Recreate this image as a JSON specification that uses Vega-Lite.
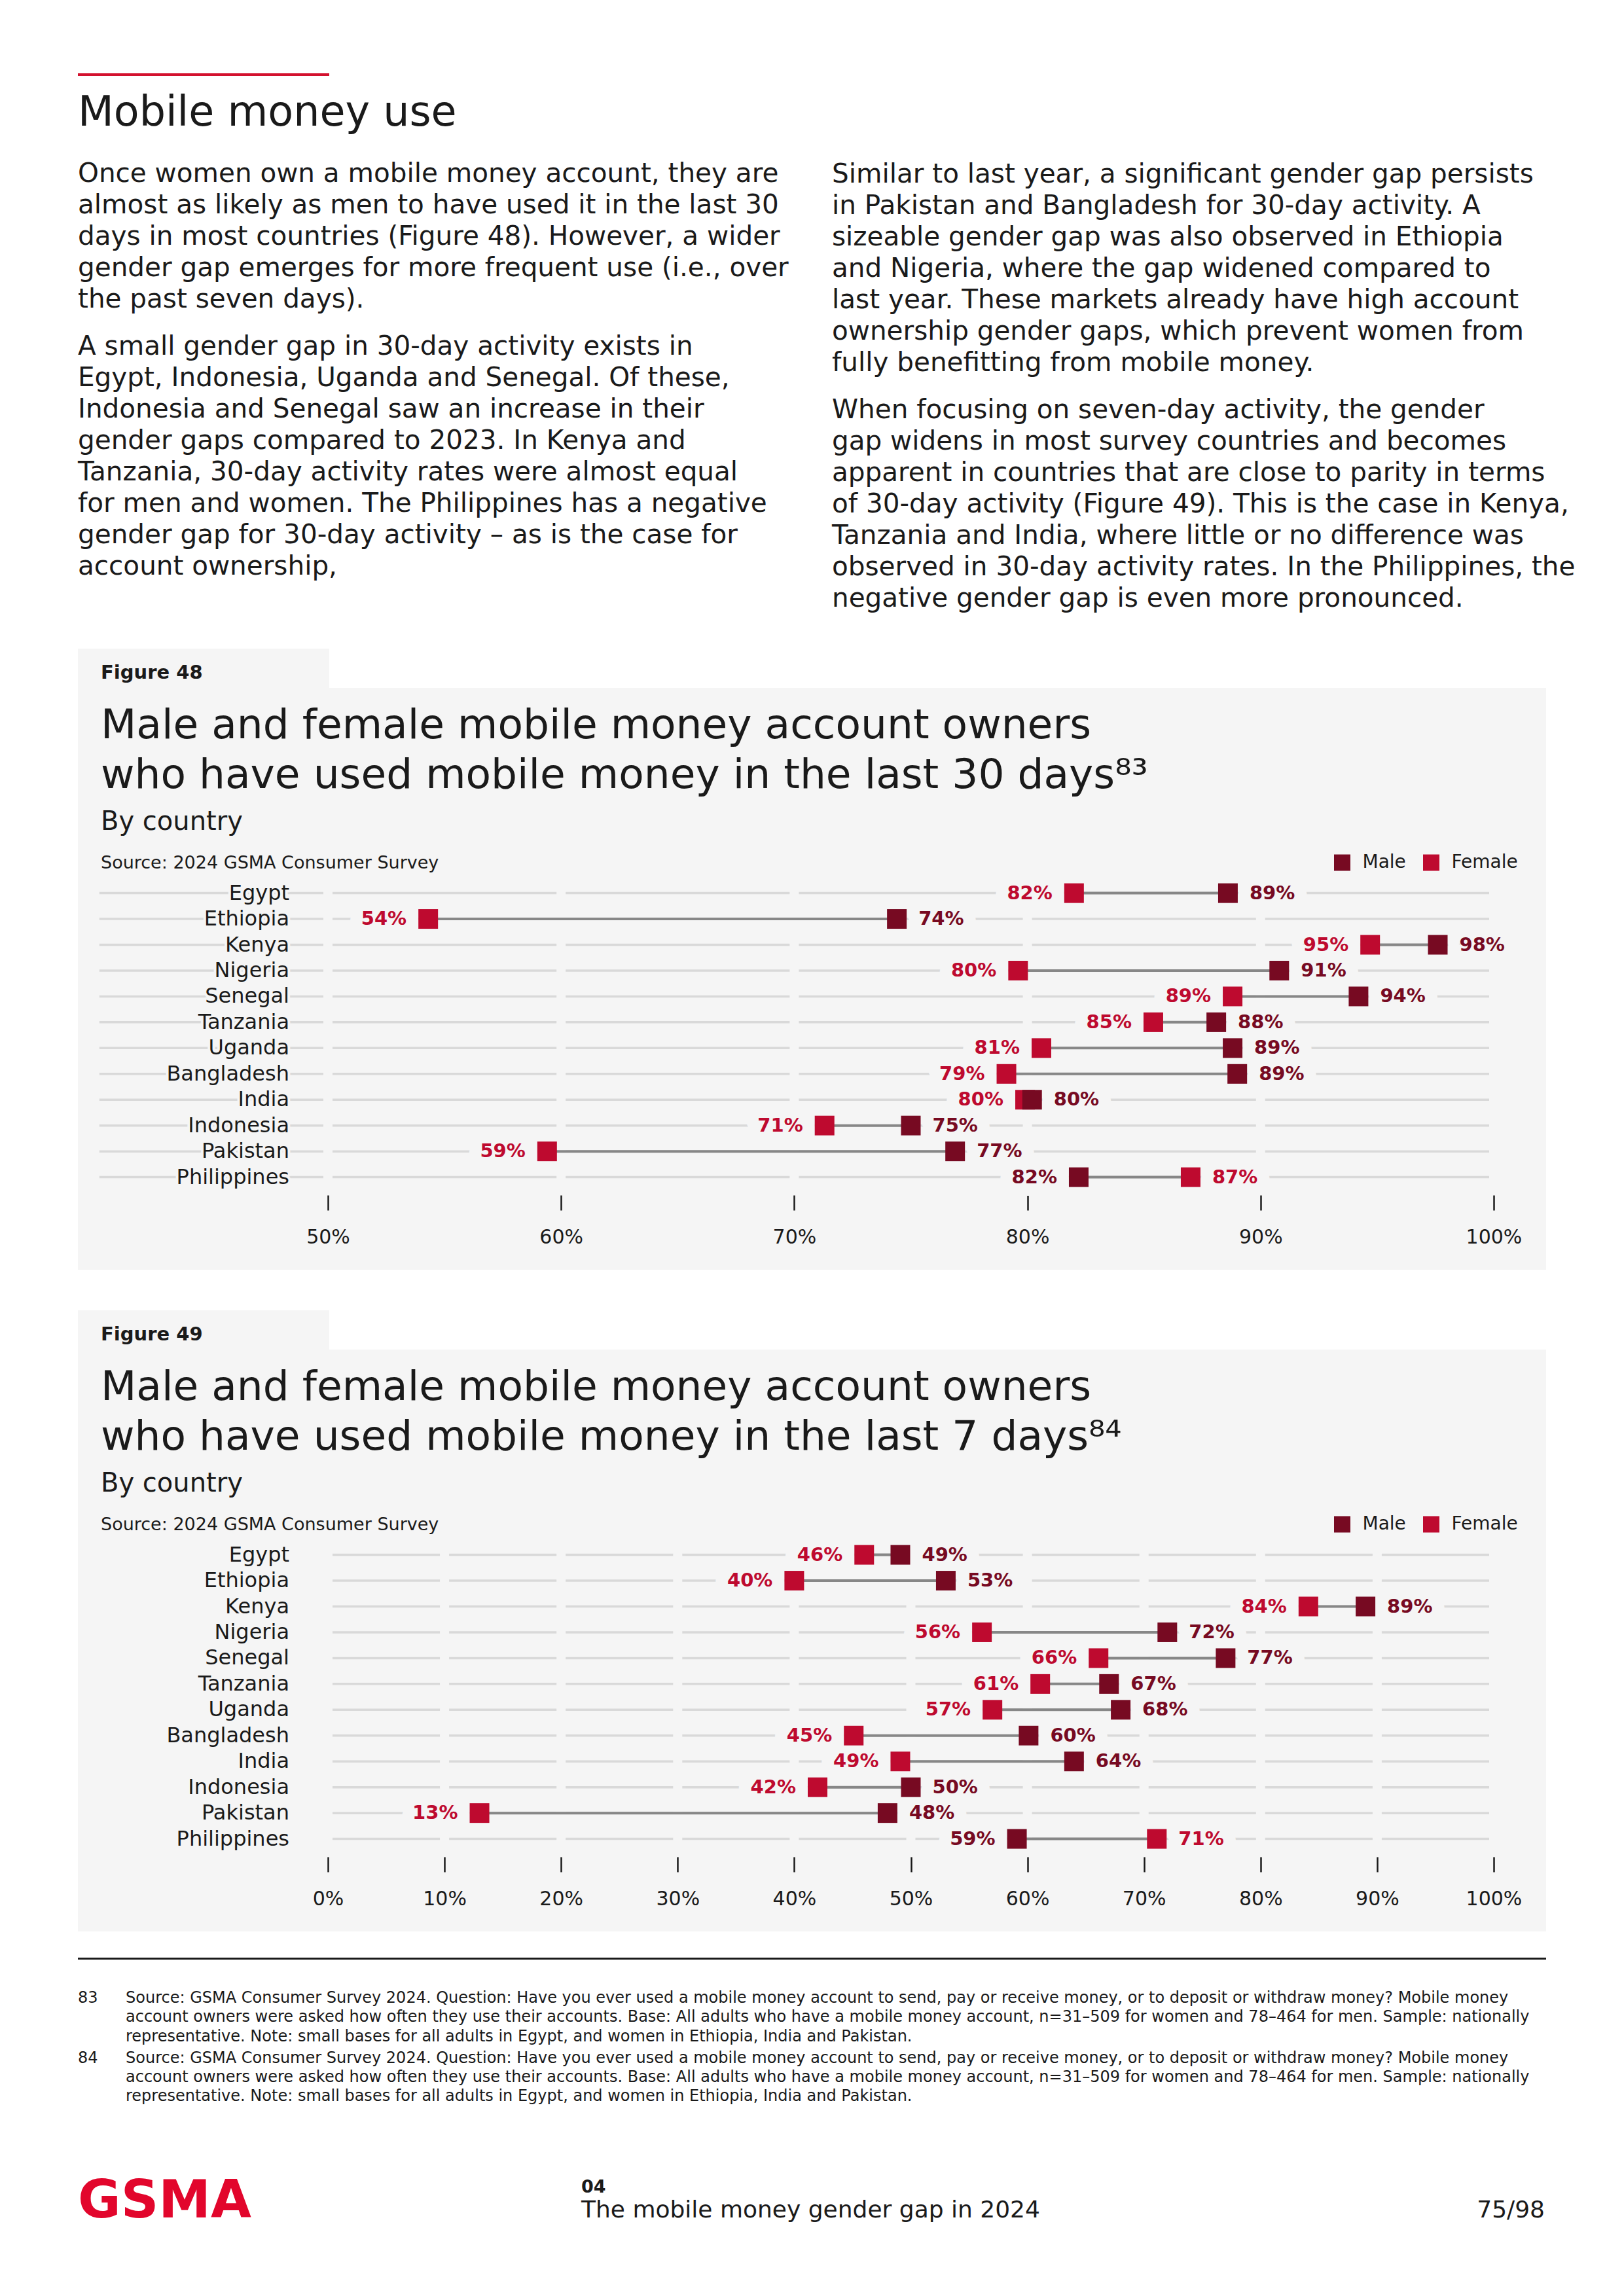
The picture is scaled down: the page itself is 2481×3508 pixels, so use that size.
{
  "$schema": "https://vega.github.io/schema/vega-lite/v6.json",
  "background": "white",
  "padding": {"left": 119, "top": 112, "right": 0, "bottom": 0},
  "autosize": {"type": "pad"},
  "bounds": "flush",
  "spacing": 0,
  "resolve": {"scale": {"color": "independent"}, "legend": {"color": "independent"}},
  "config": {
    "view": {"stroke": null},
    "font": "DejaVu Sans",
    "title": {"anchor": "start", "frame": "group", "font": "DejaVu Sans", "fontWeight": "normal", "color": "#1A1A1A", "subtitleFont": "DejaVu Sans", "subtitleFontWeight": "normal", "subtitleColor": "#1A1A1A", "offset": 0},
    "axisX": {"offset": -114, "domain": false, "grid": false, "ticks": true, "tickSize": 23, "tickWidth": 2.5, "tickColor": "#1A1A1A", "labelFont": "DejaVu Sans", "labelFontSize": 30, "labelColor": "#1A1A1A", "labelPadding": 41, "labelBaseline": "middle", "labelFlush": false, "labelOverlap": false}
  },
  "datasets": {
    "fig48": [
      {"country": "Egypt", "gender": "Female", "v": 0.820}, {"country": "Egypt", "gender": "Male", "v": 0.886},
      {"country": "Ethiopia", "gender": "Female", "v": 0.543}, {"country": "Ethiopia", "gender": "Male", "v": 0.744},
      {"country": "Kenya", "gender": "Female", "v": 0.947}, {"country": "Kenya", "gender": "Male", "v": 0.976},
      {"country": "Nigeria", "gender": "Female", "v": 0.796}, {"country": "Nigeria", "gender": "Male", "v": 0.908},
      {"country": "Senegal", "gender": "Female", "v": 0.888}, {"country": "Senegal", "gender": "Male", "v": 0.942},
      {"country": "Tanzania", "gender": "Female", "v": 0.854}, {"country": "Tanzania", "gender": "Male", "v": 0.881},
      {"country": "Uganda", "gender": "Female", "v": 0.806}, {"country": "Uganda", "gender": "Male", "v": 0.888},
      {"country": "Bangladesh", "gender": "Female", "v": 0.791}, {"country": "Bangladesh", "gender": "Male", "v": 0.890},
      {"country": "India", "gender": "Female", "v": 0.799}, {"country": "India", "gender": "Male", "v": 0.802},
      {"country": "Indonesia", "gender": "Female", "v": 0.713}, {"country": "Indonesia", "gender": "Male", "v": 0.750},
      {"country": "Pakistan", "gender": "Female", "v": 0.594}, {"country": "Pakistan", "gender": "Male", "v": 0.769},
      {"country": "Philippines", "gender": "Female", "v": 0.870}, {"country": "Philippines", "gender": "Male", "v": 0.822}
    ],
    "fig49": [
      {"country": "Egypt", "gender": "Female", "v": 0.460}, {"country": "Egypt", "gender": "Male", "v": 0.491},
      {"country": "Ethiopia", "gender": "Female", "v": 0.400}, {"country": "Ethiopia", "gender": "Male", "v": 0.530},
      {"country": "Kenya", "gender": "Female", "v": 0.841}, {"country": "Kenya", "gender": "Male", "v": 0.890},
      {"country": "Nigeria", "gender": "Female", "v": 0.561}, {"country": "Nigeria", "gender": "Male", "v": 0.720},
      {"country": "Senegal", "gender": "Female", "v": 0.661}, {"country": "Senegal", "gender": "Male", "v": 0.770},
      {"country": "Tanzania", "gender": "Female", "v": 0.611}, {"country": "Tanzania", "gender": "Male", "v": 0.670},
      {"country": "Uganda", "gender": "Female", "v": 0.570}, {"country": "Uganda", "gender": "Male", "v": 0.680},
      {"country": "Bangladesh", "gender": "Female", "v": 0.451}, {"country": "Bangladesh", "gender": "Male", "v": 0.601},
      {"country": "India", "gender": "Female", "v": 0.491}, {"country": "India", "gender": "Male", "v": 0.640},
      {"country": "Indonesia", "gender": "Female", "v": 0.420}, {"country": "Indonesia", "gender": "Male", "v": 0.500},
      {"country": "Pakistan", "gender": "Female", "v": 0.130}, {"country": "Pakistan", "gender": "Male", "v": 0.480},
      {"country": "Philippines", "gender": "Female", "v": 0.711}, {"country": "Philippines", "gender": "Male", "v": 0.591}
    ]
  },
  "vconcat": [
    {"width": 384, "height": 4, "view": {"fill": "#D3112E", "stroke": null}, "data": {"values": []}, "mark": "point", "encoding": {}},
    {"width": 10, "height": 96, "data": {"values": []}, "mark": "point", "encoding": {}},
    {"width": 1500, "height": 728, "data": {"values": []}, "mark": "point", "encoding": {},
     "title": {"text": "Mobile money use", "fontSize": 63.5, "offset": 6.6}},
    {"hconcat": [
      {"width": 1152, "height": 51, "data": {"values": []}, "mark": "point", "encoding": {},
       "title": {"text": ["Once women own a mobile money account, they are", "almost as likely as men to have used it in the last 30", "days in most countries (Figure 48). However, a wider", "gender gap emerges for more frequent use (i.e., over", "the past seven days)."],
                 "subtitle": ["A small gender gap in 30-day activity exists in", "Egypt, Indonesia, Uganda and Senegal. Of these,", "Indonesia and Senegal saw an increase in their", "gender gaps compared to 2023. In Kenya and", "Tanzania, 30-day activity rates were almost equal", "for men and women. The Philippines has a negative", "gender gap for 30-day activity – as is the case for", "account ownership,"],
                 "fontSize": 40.5, "lineHeight": 48, "subtitleFontSize": 40.5, "subtitleLineHeight": 48, "subtitlePadding": 31.3, "offset": 53.3}},
      {"width": 1091, "height": 51, "data": {"values": []}, "mark": "point", "encoding": {},
       "title": {"text": ["Similar to last year, a significant gender gap persists", "in Pakistan and Bangladesh for 30-day activity. A", "sizeable gender gap was also observed in Ethiopia", "and Nigeria, where the gap widened compared to", "last year. These markets already have high account", "ownership gender gaps, which prevent women from", "fully benefitting from mobile money."],
                 "subtitle": ["When focusing on seven-day activity, the gender", "gap widens in most survey countries and becomes", "apparent in countries that are close to parity in terms", "of 30-day activity (Figure 49). This is the case in Kenya,", "Tanzania and India, where little or no difference was", "observed in 30-day activity rates. In the Philippines, the", "negative gender gap is even more pronounced."],
                 "fontSize": 40.5, "lineHeight": 48, "subtitleFontSize": 40.5, "subtitleLineHeight": 48, "subtitlePadding": 31.3, "offset": 4.7}}
    ], "spacing": 0, "bounds": "flush"},
    {"width": 10, "height": 51, "data": {"values": []}, "mark": "point", "encoding": {}},
    {"width": 384, "height": 60, "view": {"fill": "#F5F5F5", "stroke": null}, "data": {"values": []}, "mark": "point", "encoding": {}},
    {"width": 2243, "height": 239, "view": {"fill": "#F5F5F5", "stroke": null}, "data": {"values": []}, "mark": "point", "encoding": {},
     "title": {"text": "Figure 48", "fontSize": 29, "fontWeight": "bold", "dx": 35, "offset": 7.9}},
    {"width": 2243, "height": 46, "view": {"fill": "#F5F5F5", "stroke": null}, "data": {"values": []},
     "title": {"text": ["Male and female mobile money account owners", "who have used mobile money in the last 30 days⁸³"], "fontSize": 63, "lineHeight": 76, "subtitle": "By country", "subtitleFontSize": 40, "subtitlePadding": 19.2, "dx": 35, "offset": 13.6},
     "mark": {"type": "square", "filled": true},
     "encoding": {"color": {"field": "gender", "type": "nominal", "scale": {"domain": ["Male", "Female"], "range": ["#770A22", "#BE0A2F"]},
       "legend": {"orient": "none", "legendX": 1917.5, "legendY": 14, "direction": "horizontal", "title": null, "symbolType": "square", "symbolSize": 625, "symbolStrokeWidth": 0, "symbolOpacity": 1, "labelFont": "DejaVu Sans", "labelFontSize": 28, "labelColor": "#1A1A1A", "labelOffset": 17, "columnPadding": 24, "padding": 0}}}},
    {"width": 2243, "height": 604, "view": {"fill": "#F5F5F5", "stroke": null},
     "title": {"text": "Source: 2024 GSMA Consumer Survey", "fontSize": 27, "dx": 35, "offset": 3.3},
     "data": {"name": "fig48"},
     "encoding": {"y": {"field": "country", "type": "nominal", "scale": {"type": "point", "domain": ["Egypt", "Ethiopia", "Kenya", "Nigeria", "Senegal", "Tanzania", "Uganda", "Bangladesh", "India", "Indonesia", "Pakistan", "Philippines"], "range": [28.6, 462.6], "padding": 0}, "axis": null}},
     "layer": [
       {"transform": [{"aggregate": [{"op": "count", "as": "n"}], "groupby": ["country"]}],
        "mark": {"type": "rule", "color": "#D9D9D9", "strokeWidth": 3.5, "strokeDash": [342.2, 14], "strokeDashOffset": 349.2},
        "encoding": {"x": {"datum": 0.4, "type": "quantitative", "scale": {"domain": [0.5, 1], "range": [382, 2163]}, "axis": {"values": [0.5, 0.6, 0.7, 0.8, 0.9, 1], "format": ".0%", "title": null}}, "x2": {"datum": 1}}},
       {"transform": [{"aggregate": [{"op": "count", "as": "n"}], "groupby": ["country"]}],
        "mark": {"type": "text", "align": "right", "baseline": "middle", "fontSize": 32, "color": "#F5F5F5", "stroke": "#F5F5F5", "strokeWidth": 8, "strokeJoin": "round"},
        "encoding": {"x": {"datum": 0.48344, "type": "quantitative", "scale": {"domain": [0.5, 1], "range": [382, 2163]}, "axis": {"values": [0.5, 0.6, 0.7, 0.8, 0.9, 1], "format": ".0%", "title": null}}, "text": {"field": "country"}}},
       {"transform": [{"joinaggregate": [{"op": "min", "field": "v", "as": "vmin"}], "groupby": ["country"]}, {"filter": "datum.v == datum.vmin"}],
        "mark": {"type": "text", "align": "right", "baseline": "middle", "dx": -33, "fontSize": 29, "fontWeight": "bold", "color": "#F5F5F5", "stroke": "#F5F5F5", "strokeWidth": 38, "strokeJoin": "round"},
        "encoding": {"x": {"field": "v", "type": "quantitative", "scale": {"domain": [0.5, 1], "range": [382, 2163]}, "axis": {"values": [0.5, 0.6, 0.7, 0.8, 0.9, 1], "format": ".0%", "title": null}}, "text": {"field": "v", "type": "quantitative", "format": ".0%"}}},
       {"transform": [{"joinaggregate": [{"op": "min", "field": "v", "as": "vmin"}], "groupby": ["country"]}, {"filter": "datum.v > datum.vmin"}],
        "mark": {"type": "text", "align": "left", "baseline": "middle", "dx": 33, "fontSize": 29, "fontWeight": "bold", "color": "#F5F5F5", "stroke": "#F5F5F5", "strokeWidth": 38, "strokeJoin": "round"},
        "encoding": {"x": {"field": "v", "type": "quantitative", "scale": {"domain": [0.5, 1], "range": [382, 2163]}, "axis": {"values": [0.5, 0.6, 0.7, 0.8, 0.9, 1], "format": ".0%", "title": null}}, "text": {"field": "v", "type": "quantitative", "format": ".0%"}}},
       {"transform": [{"aggregate": [{"op": "min", "field": "v", "as": "lo"}, {"op": "max", "field": "v", "as": "hi"}], "groupby": ["country"]}],
        "mark": {"type": "rule", "color": "#878787", "strokeWidth": 4},
        "encoding": {"x": {"field": "lo", "type": "quantitative", "scale": {"domain": [0.5, 1], "range": [382, 2163]}, "axis": {"values": [0.5, 0.6, 0.7, 0.8, 0.9, 1], "format": ".0%", "title": null}}, "x2": {"field": "hi"}}},
       {"mark": {"type": "square", "size": 900, "opacity": 1, "filled": true},
        "encoding": {"x": {"field": "v", "type": "quantitative", "scale": {"domain": [0.5, 1], "range": [382, 2163]}, "axis": {"values": [0.5, 0.6, 0.7, 0.8, 0.9, 1], "format": ".0%", "title": null}},
          "color": {"field": "gender", "type": "nominal", "scale": {"domain": ["Male", "Female"], "range": ["#770A22", "#BE0A2F"]}, "legend": null}}},
       {"transform": [{"joinaggregate": [{"op": "min", "field": "v", "as": "vmin"}], "groupby": ["country"]}, {"filter": "datum.v == datum.vmin"}],
        "mark": {"type": "text", "align": "right", "baseline": "middle", "dx": -33, "fontSize": 29, "fontWeight": "bold"},
        "encoding": {"x": {"field": "v", "type": "quantitative", "scale": {"domain": [0.5, 1], "range": [382, 2163]}, "axis": {"values": [0.5, 0.6, 0.7, 0.8, 0.9, 1], "format": ".0%", "title": null}}, "text": {"field": "v", "type": "quantitative", "format": ".0%"},
          "color": {"field": "gender", "type": "nominal", "scale": {"domain": ["Male", "Female"], "range": ["#770A22", "#BE0A2F"]}, "legend": null}}},
       {"transform": [{"joinaggregate": [{"op": "min", "field": "v", "as": "vmin"}], "groupby": ["country"]}, {"filter": "datum.v > datum.vmin"}],
        "mark": {"type": "text", "align": "left", "baseline": "middle", "dx": 33, "fontSize": 29, "fontWeight": "bold"},
        "encoding": {"x": {"field": "v", "type": "quantitative", "scale": {"domain": [0.5, 1], "range": [382, 2163]}, "axis": {"values": [0.5, 0.6, 0.7, 0.8, 0.9, 1], "format": ".0%", "title": null}}, "text": {"field": "v", "type": "quantitative", "format": ".0%"},
          "color": {"field": "gender", "type": "nominal", "scale": {"domain": ["Male", "Female"], "range": ["#770A22", "#BE0A2F"]}, "legend": null}}},
       {"transform": [{"aggregate": [{"op": "count", "as": "n"}], "groupby": ["country"]}],
        "mark": {"type": "text", "align": "right", "baseline": "middle", "fontSize": 32, "color": "#1A1A1A"},
        "encoding": {"x": {"datum": 0.48344, "type": "quantitative", "scale": {"domain": [0.5, 1], "range": [382, 2163]}, "axis": {"values": [0.5, 0.6, 0.7, 0.8, 0.9, 1], "format": ".0%", "title": null}}, "text": {"field": "country"}}}
     ]},
    {"width": 10, "height": 62, "data": {"values": []}, "mark": "point", "encoding": {}},
    {"width": 384, "height": 60, "view": {"fill": "#F5F5F5", "stroke": null}, "data": {"values": []}, "mark": "point", "encoding": {}},
    {"width": 2243, "height": 239, "view": {"fill": "#F5F5F5", "stroke": null}, "data": {"values": []}, "mark": "point", "encoding": {},
     "title": {"text": "Figure 49", "fontSize": 29, "fontWeight": "bold", "dx": 35, "offset": 7.9}},
    {"width": 2243, "height": 46, "view": {"fill": "#F5F5F5", "stroke": null}, "data": {"values": []},
     "title": {"text": ["Male and female mobile money account owners", "who have used mobile money in the last 7 days⁸⁴"], "fontSize": 63, "lineHeight": 76, "subtitle": "By country", "subtitleFontSize": 40, "subtitlePadding": 19.2, "dx": 35, "offset": 13.6},
     "mark": {"type": "square", "filled": true},
     "encoding": {"color": {"field": "gender", "type": "nominal", "scale": {"domain": ["Male", "Female"], "range": ["#770A22", "#BE0A2F"]},
       "legend": {"orient": "none", "legendX": 1917.5, "legendY": 14, "direction": "horizontal", "title": null, "symbolType": "square", "symbolSize": 625, "symbolStrokeWidth": 0, "symbolOpacity": 1, "labelFont": "DejaVu Sans", "labelFontSize": 28, "labelColor": "#1A1A1A", "labelOffset": 17, "columnPadding": 24, "padding": 0}}}},
    {"width": 2243, "height": 604, "view": {"fill": "#F5F5F5", "stroke": null},
     "title": {"text": "Source: 2024 GSMA Consumer Survey", "fontSize": 27, "dx": 35, "offset": 3.3},
     "data": {"name": "fig49"},
     "encoding": {"y": {"field": "country", "type": "nominal", "scale": {"type": "point", "domain": ["Egypt", "Ethiopia", "Kenya", "Nigeria", "Senegal", "Tanzania", "Uganda", "Bangladesh", "India", "Indonesia", "Pakistan", "Philippines"], "range": [28.6, 462.6], "padding": 0}, "axis": null}},
     "layer": [
       {"transform": [{"aggregate": [{"op": "count", "as": "n"}], "groupby": ["country"]}],
        "mark": {"type": "rule", "color": "#D9D9D9", "strokeWidth": 3.5, "strokeDash": [164.1, 14], "strokeDashOffset": 171.1},
        "encoding": {"x": {"datum": 0, "type": "quantitative", "scale": {"domain": [0, 1], "range": [382, 2163]}, "axis": {"values": [0, 0.1, 0.2, 0.3, 0.4, 0.5, 0.6, 0.7, 0.8, 0.9, 1], "format": ".0%", "title": null}}, "x2": {"datum": 1}}},
       {"transform": [{"joinaggregate": [{"op": "min", "field": "v", "as": "vmin"}], "groupby": ["country"]}, {"filter": "datum.v == datum.vmin"}],
        "mark": {"type": "text", "align": "right", "baseline": "middle", "dx": -33, "fontSize": 29, "fontWeight": "bold", "color": "#F5F5F5", "stroke": "#F5F5F5", "strokeWidth": 38, "strokeJoin": "round"},
        "encoding": {"x": {"field": "v", "type": "quantitative", "scale": {"domain": [0, 1], "range": [382, 2163]}, "axis": {"values": [0, 0.1, 0.2, 0.3, 0.4, 0.5, 0.6, 0.7, 0.8, 0.9, 1], "format": ".0%", "title": null}}, "text": {"field": "v", "type": "quantitative", "format": ".0%"}}},
       {"transform": [{"joinaggregate": [{"op": "min", "field": "v", "as": "vmin"}], "groupby": ["country"]}, {"filter": "datum.v > datum.vmin"}],
        "mark": {"type": "text", "align": "left", "baseline": "middle", "dx": 33, "fontSize": 29, "fontWeight": "bold", "color": "#F5F5F5", "stroke": "#F5F5F5", "strokeWidth": 38, "strokeJoin": "round"},
        "encoding": {"x": {"field": "v", "type": "quantitative", "scale": {"domain": [0, 1], "range": [382, 2163]}, "axis": {"values": [0, 0.1, 0.2, 0.3, 0.4, 0.5, 0.6, 0.7, 0.8, 0.9, 1], "format": ".0%", "title": null}}, "text": {"field": "v", "type": "quantitative", "format": ".0%"}}},
       {"transform": [{"aggregate": [{"op": "min", "field": "v", "as": "lo"}, {"op": "max", "field": "v", "as": "hi"}], "groupby": ["country"]}],
        "mark": {"type": "rule", "color": "#878787", "strokeWidth": 4},
        "encoding": {"x": {"field": "lo", "type": "quantitative", "scale": {"domain": [0, 1], "range": [382, 2163]}, "axis": {"values": [0, 0.1, 0.2, 0.3, 0.4, 0.5, 0.6, 0.7, 0.8, 0.9, 1], "format": ".0%", "title": null}}, "x2": {"field": "hi"}}},
       {"mark": {"type": "square", "size": 900, "opacity": 1, "filled": true},
        "encoding": {"x": {"field": "v", "type": "quantitative", "scale": {"domain": [0, 1], "range": [382, 2163]}, "axis": {"values": [0, 0.1, 0.2, 0.3, 0.4, 0.5, 0.6, 0.7, 0.8, 0.9, 1], "format": ".0%", "title": null}},
          "color": {"field": "gender", "type": "nominal", "scale": {"domain": ["Male", "Female"], "range": ["#770A22", "#BE0A2F"]}, "legend": null}}},
       {"transform": [{"joinaggregate": [{"op": "min", "field": "v", "as": "vmin"}], "groupby": ["country"]}, {"filter": "datum.v == datum.vmin"}],
        "mark": {"type": "text", "align": "right", "baseline": "middle", "dx": -33, "fontSize": 29, "fontWeight": "bold"},
        "encoding": {"x": {"field": "v", "type": "quantitative", "scale": {"domain": [0, 1], "range": [382, 2163]}, "axis": {"values": [0, 0.1, 0.2, 0.3, 0.4, 0.5, 0.6, 0.7, 0.8, 0.9, 1], "format": ".0%", "title": null}}, "text": {"field": "v", "type": "quantitative", "format": ".0%"},
          "color": {"field": "gender", "type": "nominal", "scale": {"domain": ["Male", "Female"], "range": ["#770A22", "#BE0A2F"]}, "legend": null}}},
       {"transform": [{"joinaggregate": [{"op": "min", "field": "v", "as": "vmin"}], "groupby": ["country"]}, {"filter": "datum.v > datum.vmin"}],
        "mark": {"type": "text", "align": "left", "baseline": "middle", "dx": 33, "fontSize": 29, "fontWeight": "bold"},
        "encoding": {"x": {"field": "v", "type": "quantitative", "scale": {"domain": [0, 1], "range": [382, 2163]}, "axis": {"values": [0, 0.1, 0.2, 0.3, 0.4, 0.5, 0.6, 0.7, 0.8, 0.9, 1], "format": ".0%", "title": null}}, "text": {"field": "v", "type": "quantitative", "format": ".0%"},
          "color": {"field": "gender", "type": "nominal", "scale": {"domain": ["Male", "Female"], "range": ["#770A22", "#BE0A2F"]}, "legend": null}}},
       {"transform": [{"aggregate": [{"op": "count", "as": "n"}], "groupby": ["country"]}],
        "mark": {"type": "text", "align": "right", "baseline": "middle", "fontSize": 32, "color": "#1A1A1A"},
        "encoding": {"x": {"datum": -0.03313, "type": "quantitative", "scale": {"domain": [0, 1], "range": [382, 2163]}, "axis": {"values": [0, 0.1, 0.2, 0.3, 0.4, 0.5, 0.6, 0.7, 0.8, 0.9, 1], "format": ".0%", "title": null}}, "text": {"field": "country"}}}
     ]},
    {"width": 10, "height": 40, "data": {"values": []}, "mark": "point", "encoding": {}},
    {"width": 2243, "height": 3, "view": {"fill": "#1A1A1A", "stroke": null}, "data": {"values": []}, "mark": "point", "encoding": {}},
    {"width": 10, "height": 226, "data": {"values": []}, "mark": "point", "encoding": {}},
    {"hconcat": [
      {"width": 73, "height": 190, "data": {"values": []}, "mark": "point", "encoding": {},
       "title": {"text": "83", "subtitle": "84", "fontSize": 24, "subtitleFontSize": 24, "subtitlePadding": 68.1, "offset": 62.9}},
      {"width": 2170, "height": 190, "data": {"values": []}, "mark": "point", "encoding": {},
       "title": {"text": ["Source: GSMA Consumer Survey 2024. Question: Have you ever used a mobile money account to send, pay or receive money, or to deposit or withdraw money? Mobile money", "account owners were asked how often they use their accounts. Base: All adults who have a mobile money account, n=31–509 for women and 78–464 for men. Sample: nationally", "representative. Note: small bases for all adults in Egypt, and women in Ethiopia, India and Pakistan."],
                 "subtitle": ["Source: GSMA Consumer Survey 2024. Question: Have you ever used a mobile money account to send, pay or receive money, or to deposit or withdraw money? Mobile money", "account owners were asked how often they use their accounts. Base: All adults who have a mobile money account, n=31–509 for women and 78–464 for men. Sample: nationally", "representative. Note: small bases for all adults in Egypt, and women in Ethiopia, India and Pakistan."],
                 "fontSize": 24, "lineHeight": 29.25, "subtitleFontSize": 24, "subtitleLineHeight": 29.25, "subtitlePadding": 9.2, "offset": 4.7}}
    ], "spacing": 0, "bounds": "flush"},
    {"width": 10, "height": 190, "data": {"values": []}, "mark": "point", "encoding": {}},
    {"hconcat": [
      {"width": 769, "height": 1, "data": {"values": []}, "mark": "point", "encoding": {},
       "title": {"text": "GSMA", "fontSize": 80, "fontWeight": "bold", "color": "#E2062C", "offset": 5.2}},
      {"width": 1000, "height": 1, "data": {"values": []}, "mark": "point", "encoding": {},
       "title": {"text": "04", "fontSize": 27, "fontWeight": "bold", "subtitle": "The mobile money gender gap in 2024", "subtitleFontSize": 36, "subtitlePadding": 3.9, "offset": 14.4}},
      {"width": 472, "height": 1, "data": {"values": []}, "mark": "point", "encoding": {},
       "title": {"text": "75/98", "fontSize": 36, "anchor": "end", "offset": 14.4}}
    ], "spacing": 0, "bounds": "flush"}
  ]
}
